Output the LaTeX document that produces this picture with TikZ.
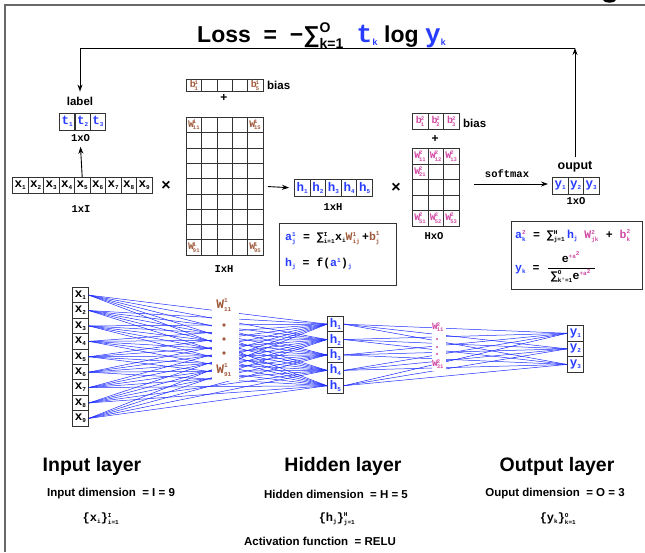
\documentclass[tikz,border=0pt]{standalone}
\usepackage{fontspec}
\setmainfont{Liberation Sans}
\setmonofont{Liberation Mono}
\usetikzlibrary{arrows.meta}

\definecolor{vecblue}{RGB}{40,60,255}
\definecolor{wbrown}{RGB}{160,90,60}
\definecolor{wpink}{RGB}{210,75,165}
\definecolor{netblue}{RGB}{30,45,255}
\definecolor{framegray}{RGB}{105,105,105}

% tiny bold index text for super/subscripts
\newcommand{\tsc}[1]{\hbox{\fontsize{6}{6}\selectfont\ttfamily\bfseries #1}}
% vector entry: letter with a small lowered index
\newcommand{\vlab}[2]{{\ttfamily\bfseries #1}\raisebox{-2pt}{\fontsize{6}{6}\selectfont\ttfamily\bfseries #2}}
% weight/bias entry: letter with superscript and subscript
\newcommand{\wlab}[3]{$\hbox{\ttfamily\bfseries #1}^{\tsc{#2}}_{\tsc{#3}}$}
% compact weight entry used inside the grid cells
\newcommand{\clab}[3]{$\hbox{\ttfamily\bfseries #1}\mkern-2mu^{\hbox{\fontsize{5.5}{5.5}\selectfont\ttfamily\bfseries #2}}_{\hbox{\fontsize{5.5}{5.5}\selectfont\ttfamily\bfseries #3}}$}
\newcommand{\bsum}{\hbox{\bfseries ∑}}

\begin{document}
\begin{tikzpicture}[x=1pt,y=-1pt,
  cellbox/.style={draw=black!80, line width=0.9pt, inner sep=0pt, anchor=north west,
                  font=\fontsize{12.5}{13}\selectfont},
  vcell/.style={cellbox, minimum width=15.5pt, minimum height=16pt},
  hcell/.style={cellbox, minimum width=15.6pt, minimum height=17pt, text=vecblue},
  mcell/.style={cellbox, minimum width=15.3pt, minimum height=15.3pt},
  bcell/.style={cellbox, minimum width=15.3pt, minimum height=12pt},
  pcell/.style={cellbox, minimum width=15.6pt, minimum height=15.5pt},
  ncell/.style={cellbox, minimum width=16pt, minimum height=15.4pt},
  wbr/.style={inner sep=0pt, text=wbrown, font=\fontsize{10}{10}\selectfont},
  wpk/.style={inner sep=0pt, text=wpink, font=\fontsize{10}{10}\selectfont},
  dimlbl/.style={inner sep=0pt, font=\fontsize{10.5}{10.5}\selectfont\ttfamily\bfseries},
  sanslbl/.style={inner sep=0pt, font=\fontsize{11.5}{12}\selectfont\bfseries},
  optxt/.style={inner sep=0pt, font=\fontsize{16}{16}\selectfont\bfseries},
  ftext/.style={inner sep=0pt, anchor=west, font=\fontsize{11.5}{11.5}\selectfont\ttfamily\bfseries},
  fbox/.style={draw=black!80, line width=1.1pt, inner sep=0pt, anchor=north west},
  netline/.style={draw=netblue, line width=0.5pt},
  arr/.style={-{Stealth[length=7pt,width=5pt]}, line width=0.9pt},
  laytitle/.style={inner sep=0pt, font=\fontsize{19.5}{20}\selectfont\bfseries},
  laydim/.style={inner sep=0pt, font=\fontsize{11.5}{12}\selectfont\bfseries},
  layset/.style={inner sep=0pt, font=\fontsize{12}{12}\selectfont\ttfamily\bfseries}
]
\useasboundingbox (0,0) rectangle (645,552);

% outer frame (top and left edges) and the clipped glyph tail at the top
\draw[framegray, line width=1.5pt] (5,552) -- (5,5) -- (645,5);
\fill[black] (603,0) .. controls (604,3.6) and (615,3.6) .. (616,0) -- cycle;

% loss function
\node[anchor=base west, inner sep=0pt, font=\fontsize{23}{23}\selectfont\bfseries] (title) at (197,42)
  {Loss\ \ =\ \ −$\bsum^{\hbox{\fontsize{14}{14}\selectfont\bfseries O}}_{\hbox{\fontsize{14}{14}\selectfont\bfseries k=1}}$\ \ \textcolor{vecblue}{\fontsize{26}{26}\selectfont\ttfamily t\raisebox{-3pt}{\fontsize{9}{9}\selectfont k}}\ log\ \textcolor{vecblue}{\fontsize{26}{26}\selectfont\ttfamily y\raisebox{-3pt}{\fontsize{9}{9}\selectfont k}}};

% ---------------- forward pass in matrix form ----------------
% label vector
\node[sanslbl] (tlbl) at (80,101) {label};
\foreach \i in {1,2,3}
  \node[vcell, text=vecblue, minimum height=16.5pt] (t\i) at ({59+15.4*(\i-1)},113) {\vlab{t}{\i}};
\node[dimlbl] (dimt) at (80.5,138) {1xO};

% input vector
\foreach \i in {1,...,9}
  \node[vcell] (x\i) at ({12+15.5*(\i-1)},177) {\vlab{x}{\i}};
\node[dimlbl] (dimx) at (81,209) {1xI};
\draw[arr] (x5.north) -- ([yshift=-5pt]dimt.south);
\node[optxt] (times1) at (166,186) {×};

% first bias row and weight matrix
\foreach \c in {1,...,5}
  \node[bcell] (ba\c) at ({186+15.3*(\c-1)},79) {};
\node[wbr] (lba1) at (ba1) {\clab{b}{1}{1}};
\node[wbr] (lba5) at (ba5) {\clab{b}{1}{5}};
\node[sanslbl, anchor=west] (bias1) at (267,85) {bias};
\node[optxt, font=\fontsize{12}{12}\selectfont\bfseries] (plus1) at (224,98) {+};
\foreach \r in {1,...,9}
  \foreach \c in {1,...,5}
    \node[mcell] (wa\r\c) at ({186+15.3*(\c-1)},{117+15.3*(\r-1)}) {};
\node[wbr] (lwa11) at (wa11) {\clab{W}{1}{11}};
\node[wbr] (lwa15) at (wa15) {\clab{W}{1}{15}};
\node[wbr] (lwa91) at (wa91) {\clab{W}{1}{91}};
\node[wbr] (lwa95) at (wa95) {\clab{W}{1}{95}};
\node[dimlbl] (dimw1) at (224,269) {IxH};

% hidden vector
\foreach \i in {1,...,5}
  \node[hcell] (h\i) at ({294+15.6*(\i-1)},179) {\vlab{h}{\i}};
\draw[arr, shorten <=4.5pt, shorten >=5pt] (wa55.east) -- (h1.west);
\node[dimlbl] (dimh) at (333,207) {1xH};
\node[optxt] (times2) at (396,188) {×};

% second bias row and weight matrix
\foreach \c in {1,2,3}
  \node[pcell, minimum height=16pt] (bb\c) at ({412+15.6*(\c-1)},113) {};
\foreach \c in {1,2,3}
  \node[wpk] (lbb\c) at (bb\c) {\clab{b}{2}{\c}};
\node[sanslbl, anchor=west] (bias2) at (463,123) {bias};
\node[optxt, font=\fontsize{12}{12}\selectfont\bfseries] (plus2) at (435,139) {+};
\foreach \r in {1,...,5}
  \foreach \c in {1,2,3}
    \node[pcell] (wb\r\c) at ({412+15.6*(\c-1)},{148+15.5*(\r-1)}) {};
\foreach \c in {1,2,3} {
  \node[wpk] (lwb1\c) at (wb1\c) {\clab{W}{2}{1\c}};
  \node[wpk] (lwb5\c) at (wb5\c) {\clab{W}{2}{5\c}};
}
\node[wpk] (lwb21) at (wb21) {\clab{W}{2}{21}};
\node[dimlbl] (dimw2) at (434,236) {HxO};

% output vector
\node[sanslbl, font=\fontsize{12.5}{13}\selectfont\bfseries] (ylbl) at (575,167) {ouput};
\foreach \i in {1,2,3}
  \node[hcell] (y\i) at ({552+15.5*(\i-1)},177) {\vlab{y}{\i}};
\node[dimlbl] (dimy) at (576,201) {1xO};
\coordinate (smstart) at (474,184);
\draw[arr, shorten >=4pt] (smstart) -- (y1.west |- smstart);
\node[dimlbl] (smlbl) at (507,174) {softmax};

% feedback from output to label
\coordinate (fbR) at (575,48);
\coordinate (fbL) at (80,48);
\draw[arr, shorten <=4pt] (ylbl.north) -- (fbR);
\draw[arr, shorten >=5pt] (fbR) -- (fbL) -- (tlbl.north);

% formula boxes
\node[fbox, minimum width=117pt, minimum height=62pt] (fbox1) at (279,223) {};
\node[ftext] (f1a) at (285,238)
  {\textcolor{vecblue}{\wlab{a}{1}{j}}\ = $\bsum^{\tsc{I}}_{\tsc{i=1}}$\vlab{x}{i}\textcolor{wbrown}{\wlab{W}{1}{ij}}\,+\textcolor{wbrown}{\wlab{b}{1}{j}}};
\node[ftext] (f1b) at (285,264)
  {\textcolor{vecblue}{\vlab{h}{j}}\ = f(\textcolor{vecblue}{$\hbox{\ttfamily\bfseries a}^{\tsc{1}}$})\textcolor{vecblue}{${}_{\tsc{j}}$}};

\node[fbox, minimum width=131pt, minimum height=68pt] (fbox2) at (511,221) {};
\node[ftext] (f2a) at (515,236)
  {\textcolor{vecblue}{$\hbox{\ttfamily\bfseries a}^{\tsc{\color{wpink}2}}_{\tsc{k}}$} = $\bsum^{\tsc{H}}_{\tsc{j=1}}$\,\textcolor{vecblue}{\vlab{h}{j}} \textcolor{wpink}{\wlab{W}{2}{jk}} + \textcolor{wpink}{\wlab{b}{2}{k}}};
\node[ftext] (f2b) at (515,267)
  {\textcolor{vecblue}{\vlab{y}{k}} = $\displaystyle\frac{\hbox{\ttfamily\bfseries e}^{\tsc{\color{wpink}+a}^{\tsc{\color{wpink}2}}}}{\;\bsum^{\tsc{O}}_{\tsc{k'=1}}\hbox{\ttfamily\bfseries e}^{\tsc{\color{wpink}+a}^{\tsc{\color{wpink}2}}}\;}$};

% ---------------- network view ----------------
\foreach \i in {1,...,9}
  \node[ncell] (nx\i) at (72,{287+15.4*(\i-1)}) {\vlab{x}{\i}};
\foreach \j in {1,...,5}
  \node[ncell, text=vecblue] (nh\j) at (327,{316+15.4*(\j-1)}) {\vlab{h}{\j}};
\foreach \k in {1,2,3}
  \node[ncell, text=vecblue, minimum height=15.6pt] (ny\k) at (567,{325+15.6*(\k-1)}) {\vlab{y}{\k}};

\foreach \i in {1,...,9}
  \foreach \j in {1,...,5}
    \draw[netline] (nx\i.east) -- (nh\j.west);
\foreach \j in {1,...,5}
  \foreach \k in {1,2,3}
    \draw[netline] (nh\j.east) -- (ny\k.west);

% weight labels on a white strip
\fill[white] (212,297) rectangle (239,381);
\fill[white] (432,318) rectangle (446,371);
\node[wbr, font=\fontsize{13}{13}\selectfont] (nw11) at (224,305) {\wlab{W}{1}{11}};
\foreach \yy in {325,339,353}
  \fill[wbrown] (224,\yy) circle (1.9pt);
\node[wbr, font=\fontsize{13}{13}\selectfont] (nw91) at (224,370) {\wlab{W}{1}{91}};
\node[wpk, font=\fontsize{9.5}{9.5}\selectfont] (nv11) at (438,327) {\clab{W}{2}{11}};
\foreach \yy in {339,347,354}
  \fill[wpink] (437,\yy) circle (1.1pt);
\node[wpk, font=\fontsize{9.5}{9.5}\selectfont] (nv31) at (438,364) {\clab{W}{2}{31}};

% ---------------- layer captions ----------------
\node[laytitle] (lin) at (92,466) {Input layer};
\node[laytitle] (lhid) at (343,466) {Hidden layer};
\node[laytitle] (lout) at (557,466) {Output layer};
\node[laydim] (din) at (111,494) {Input dimension \ = I = 9};
\node[laydim] (dhid) at (336,494) {Hidden dimension \ = H = 5};
\node[laydim] (dout) at (555,494) {Ouput dimension \ = O = 3};
\node[layset] (sin) at (101,519) {\{\vlab{x}{i}\}$^{\tsc{I}}_{\tsc{i=1}}$};
\node[layset] (shid) at (337,519) {\{\vlab{h}{j}\}$^{\tsc{H}}_{\tsc{j=1}}$};
\node[layset] (sout) at (558,519) {\{\vlab{y}{k}\}$^{\tsc{O}}_{\tsc{k=1}}$};
\node[laydim] (act) at (320,541) {Activation function \ = RELU};
\end{tikzpicture}
\end{document}
